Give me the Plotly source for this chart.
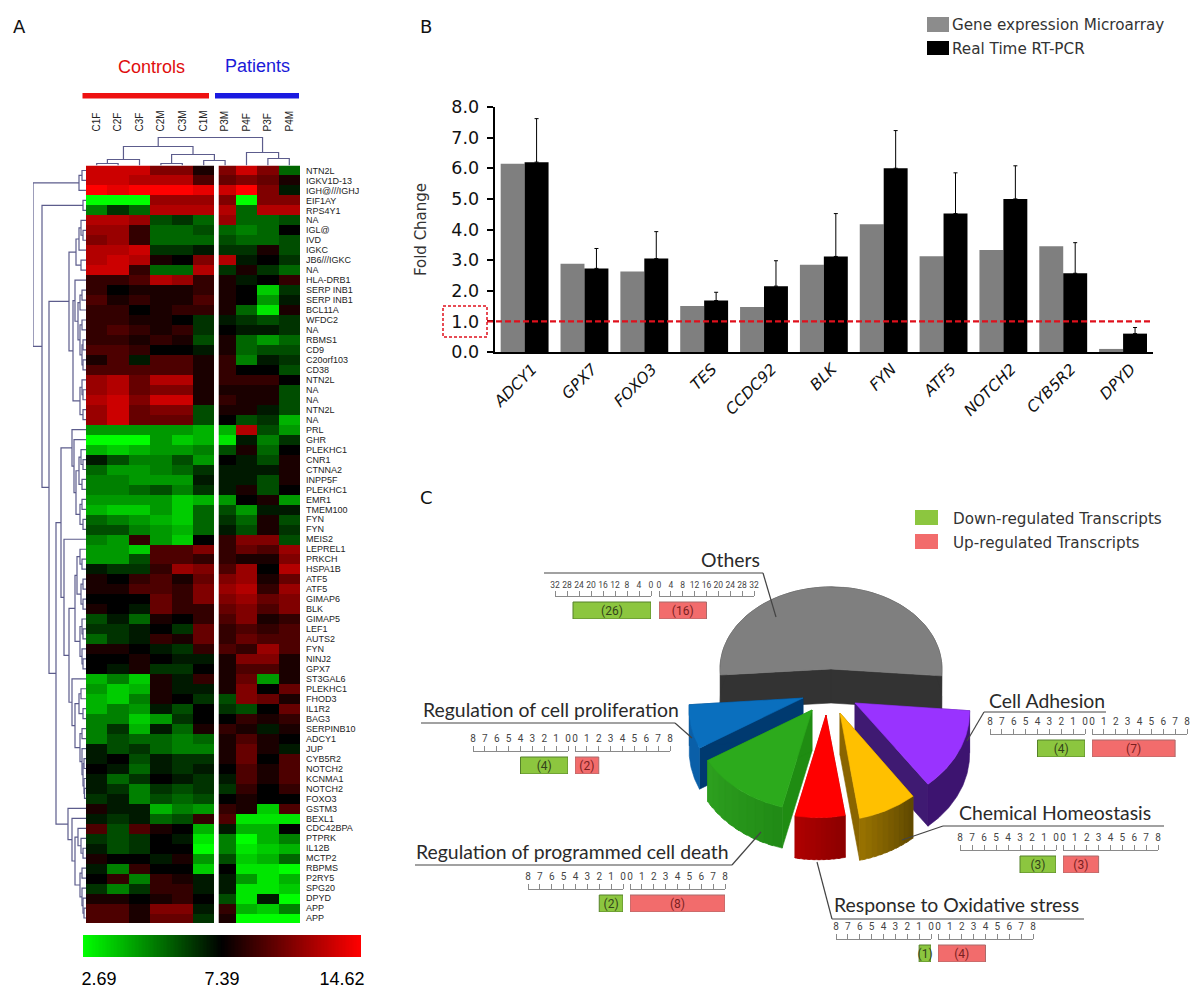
import math
import plotly.graph_objects as go

# ---------- Panel A data ----------
heat_cols = ["C1F", "C2F", "C3F", "C2M", "C3M", "C1M", "P3M", "P4F", "P3F", "P4M"]
heat_rows = ["NTN2L", "IGKV1D-13", "IGH@///IGHJ", "EIF1AY", "RPS4Y1", "NA", "IGL@", "IVD", "IGKC", "JB6///IGKC",
             "NA", "HLA-DRB1", "SERP INB1", "SERP INB1", "BCL11A", "WFDC2", "NA", "RBMS1", "CD9", "C20orf103",
             "CD38", "NTN2L", "NA", "NA", "NTN2L", "NA", "PRL", "GHR", "PLEKHC1", "CNR1",
             "CTNNA2", "INPP5F", "PLEKHC1", "EMR1", "TMEM100", "FYN", "FYN", "MEIS2", "LEPREL1", "PRKCH",
             "HSPA1B", "ATF5", "ATF5", "GIMAP6", "BLK", "GIMAP5", "LEF1", "AUTS2", "FYN", "NINJ2",
             "GPX7", "ST3GAL6", "PLEKHC1", "FHOD3", "IL1R2", "BAG3", "SERPINB10", "ADCY1", "JUP", "CYB5R2",
             "NOTCH2", "KCNMA1", "NOTCH2", "FOXO3", "GSTM3", "BEXL1", "CDC42BPA", "PTPRK", "IL12B", "MCTP2",
             "RBPMS", "P2RY5", "SPG20", "DPYD", "APP", "APP"]
heat_values = [
    [8, 8, 8, 5, 5, 1, 5, 8, 5, -4], [8, 8, 7, 7, 7, 3, 4, 5, 4, 1], [10, 9, 10, 10, 10, 9, 8, 10, 5, -1],
    [-10, -10, -10, 6, 6, 6, 5, -10, 5, 5], [-5, -2, -4, 7, 7, 7, 7, -4, 7, 7], [7, 7, 6, -3, -2, -4, 6, -4, -4, -3],
    [6, 6, 2, -4, -4, -3, -4, -5, -4, 0], [5, 6, 2, -4, -4, -4, -3, -4, -4, -3], [7, 7, 8, -2, -2, -1, -2, -2, 1, -3],
    [7, 8, 7, 1, 0, 5, 7, -1, 0, -2], [8, 8, 2, -4, -4, 7, -2, 1, -2, -4], [2, 2, 3, 7, 6, 2, 1, -1, 0, 2],
    [2, 0, 1, 1, 1, 2, 1, 0, -8, -2], [3, 1, 2, 1, 1, 3, 1, 0, -6, -1], [2, 2, 0, 1, 2, 2, 1, -4, -9, 1],
    [2, 2, 1, 1, 0, -2, -1, -2, -3, -2], [2, 3, 2, 1, 2, -2, 0, -1, -1, -2], [2, 2, 1, 2, 1, -3, 1, -4, -6, -4],
    [3, 3, 2, 0, 0, -1, 1, -4, -3, -3], [1, 3, -1, 3, 3, 1, 2, -5, -1, -2], [3, 3, 3, 3, 3, 1, 2, 0, 0, -3],
    [6, 7, 4, 7, 7, 1, 2, 2, 2, 0], [6, 7, 4, 5, 5, 1, 1, 1, 1, -3], [7, 8, 5, 8, 8, 1, 2, 1, 1, -3],
    [6, 8, 4, 5, 5, -3, 1, 1, -1, -3], [6, 8, 4, 4, 4, -3, 0, -3, -2, -7], [-6, -6, -6, -6, -6, -7, -7, 7, -3, -6],
    [-10, -10, -10, -6, -8, -7, -9, -1, -5, -2], [-7, -8, -7, -6, -6, -5, -3, 1, -4, 0], [-1, -3, -5, -5, -3, -6, 0, -1, -3, 1],
    [-4, -6, -6, -5, -4, -2, -1, -1, -1, 1], [-5, -5, -6, -6, -6, -1, -1, -1, -3, 1], [-5, -5, -4, -3, -5, -2, -1, 1, -3, 0],
    [-6, -6, -6, -6, -8, -7, -6, 0, 1, -6], [-7, -8, -8, -6, -8, -4, -3, -6, -1, -1], [-4, -5, -6, -7, -8, -4, -2, -4, 1, -3],
    [-3, -3, -5, -6, -7, -4, -1, -3, 1, -2], [-5, -6, 2, -6, -8, 0, 2, 5, 5, -3], [-6, -6, -8, 3, 3, 5, 2, 4, 3, 6],
    [-6, -6, -3, 3, 3, 2, 2, 1, 1, 5], [-1, -2, -2, 2, 6, 5, 3, 6, 0, 7], [1, 0, 2, 3, 1, 4, 5, 6, 1, 4],
    [1, 1, 3, 3, 2, 5, 6, 7, 2, 6], [0, 0, 0, 4, 2, 5, 5, 6, 4, 5], [1, 0, -1, 4, 2, 2, 4, 5, 3, 5],
    [-3, -1, -4, 1, 0, 2, 3, 5, 1, 2], [-2, -2, -1, 0, -2, 4, 2, 3, 2, 3], [-4, -2, -1, 2, 1, 4, 2, 4, 3, 3],
    [1, 1, 0, -1, -2, 2, 3, 2, 6, 3], [0, 0, 1, 0, -1, -1, 1, 5, 5, 1], [0, -1, 1, -2, -2, 0, 1, 3, 3, 1],
    [-7, -5, -8, 1, -1, 2, 1, 4, -6, 1], [-6, -8, -7, 1, -1, -1, 1, 5, 0, 4], [-7, -8, -5, 1, 0, -2, -3, 5, 4, 1],
    [-7, -5, -6, -1, -3, 0, -2, -3, 0, 4], [-5, -5, -8, -6, -2, 0, 0, 2, 1, 2], [-5, -2, -7, -1, -4, 1, 2, 1, -1, 1],
    [-5, -3, -4, -4, -5, -4, 1, 3, 1, 0], [-1, -3, -2, -4, -5, -5, 1, 4, 1, -1], [-1, 0, -3, -1, -2, -2, 1, 4, 0, 3],
    [0, -1, -4, -1, -2, -1, 0, 3, 1, 3], [-1, -4, -2, 0, -1, -2, -1, 3, 1, 3], [-1, -2, -5, -2, -3, -2, -2, 2, 0, 2],
    [-2, -1, -5, -3, -4, -3, 0, 1, 0, 0], [1, -1, -1, -7, -5, -6, 2, 1, -8, 3], [-1, -2, -1, -4, -3, 2, 3, -9, -9, -9],
    [3, -3, 3, 1, 0, -7, -1, -7, -7, 0], [-2, -3, -2, 0, -1, -9, -5, -10, -7, -5], [-1, -3, -2, 0, 0, -10, -5, -9, -8, -7],
    [1, 0, 0, -1, 1, -6, -3, -8, -7, -4], [-1, -5, 2, 0, 0, -8, 0, -9, -9, -10], [0, 2, -5, 2, 1, -1, -1, -6, -9, -7],
    [-2, -5, -2, 2, 2, -1, -1, -9, -9, -8], [1, 1, 0, 1, 2, 0, -3, -9, -1, -10], [3, 3, 1, 5, 5, -1, 2, -7, -8, -5],
    [3, 3, 1, 4, 4, -2, 1, -10, -10, -10],
]
scale_labels = ["2.69", "7.39", "14.62"]

# Dendrograms: (distance, child, child); an int child is a leaf index
row_tree = (53, (7, (4, 0, 1), 2), (44, (3, 3, 4), (37,
    (17, (10, (7, (5, 5, (3, 6, 7)), 8), (5, 9, 10)),
         (13, (11, 11, (8, (6, (4, 12, 13), 14), (6, (4, 15, 16), (4, (3, 17, 18), (3, 19, 20))))),
              (6, (4, 21, (3, 22, 23)), (3, 24, 25)))),
    (30, (25, (14, 26, (12, 27, (10, (7, (5, 28, (3, 29, 30)), (4, 31, 32)), (6, (4, 33, 34), (3, 35, 36))))),
              (22, 37, (17, (11, (9, (6, 38, (4, 39, 40)), (5, (3, 41, 42), (3, 43, 44))),
                                 (6, (4, 45, (3, 46, 47)), (4, 48, (3, 49, 50)))),
                            (14, 51, (11, (7, (5, 52, 53), (3, 54, 55)),
                                      (6, (4, 56, 57), (4, 58, (3, (2, 59, 60), (2, 61, (1.5, 62, 63)))))))))),
         (18, 64, (14, 65, (11, (8, 66, (5, 67, (3, 68, 69))),
                            (6, (4, 70, 71), (4, 72, (3, 73, (2, 74, 75)))))))))))
col_tree = (28, (19, (6, (2, 0, 1), 2), (11, (2, 3, 4), (5, 5, 6))), (13, 7, (7, 8, 9)))

# ---------- Panel B data ----------
genes = ["ADCY1", "GPX7", "FOXO3", "TES", "CCDC92", "BLK", "FYN", "ATF5", "NOTCH2", "CYB5R2", "DPYD"]
microarray = [6.15, 2.88, 2.63, 1.5, 1.47, 2.85, 4.17, 3.13, 3.33, 3.45, 0.1]
rt_pcr = [6.2, 2.73, 3.05, 1.68, 2.15, 3.12, 6.0, 4.52, 5.0, 2.57, 0.6]
rt_pcr_top = [7.62, 3.38, 3.93, 1.95, 2.98, 4.52, 7.23, 5.85, 6.08, 3.57, 0.8]

# ---------- Panel C data ----------
terms = ["Others", "Cell Adhesion", "Chemical Homeostasis", "Response to Oxidative stress",
         "Regulation of programmed cell death", "Regulation of cell proliferation"]
down_counts = [26, 4, 3, 1, 2, 4]
up_counts = [16, 7, 3, 4, 8, 2]
scale_max = [32, 8, 8, 8, 8, 8]

W, H = 1200, 999
NARROW = "Roboto, Liberation Sans, Arial, sans-serif"
TERMFONT = "Lato, Liberation Sans, Arial, sans-serif"
SANS = "Liberation Sans, Arial, sans-serif"
DEJA = "DejaVu Sans, Verdana, sans-serif"
DENDRO = "#5c5c8c"
HEAT_SCALE = [[0, "#00ff00"], [0.5, "#000000"], [1, "#ff0000"]]


def dom_x(a, b):
    return [a / W, b / W]


def dom_y(top, bottom):
    return [1 - bottom / H, 1 - top / H]


fig = go.Figure()
layout = dict(template="none", width=W, height=H, autosize=False, margin=dict(l=0, r=0, t=0, b=0, pad=0), showlegend=False,
              paper_bgcolor="white", plot_bgcolor="rgba(0,0,0,0)", bargap=0.2, bargroupgap=0, barmode="group")

# ---------- Panel A ----------
fig.add_trace(go.Heatmap(z=heat_values, x=list(range(10)), y=list(range(len(heat_rows))), zmin=-10, zmax=10, hoverinfo="skip",
                         colorscale=HEAT_SCALE, showscale=False))
layout["xaxis"] = dict(domain=dom_x(86, 300), range=[-0.5, 9.5], side="top", anchor="y", tickvals=list(range(10)),
                       ticktext=heat_cols, tickangle=-90, ticks="", ticklabelstandoff=33, showgrid=False, zeroline=False,
                       tickfont=dict(family=SANS, size=10, color="#222"))
layout["yaxis"] = dict(domain=dom_y(165.5, 923), range=[75.5, -0.5], side="right", anchor="x",
                       tickvals=list(range(len(heat_rows))), ticktext=heat_rows, ticks="", ticklabelstandoff=5,
                       showgrid=False, zeroline=False, tickfont=dict(family=SANS, size=9, color="#222"))


def tree_lines(node):
    """Returns (leaf position, distance, xs, ys) with distance along d and leaf position along p."""
    if isinstance(node, int):
        return node, 0, [], []
    d, a, b = node
    pa, da, xa, ya = tree_lines(a)
    pb, db, xb, yb = tree_lines(b)
    return (pa + pb) / 2, d, xa + xb + [da, d, d, db, None], ya + yb + [pa, pa, pb, pb, None]


_, _, ds, ps = tree_lines(row_tree)
fig.add_trace(go.Scatter(x=ds, y=ps, mode="lines", line=dict(color=DENDRO, width=1.2), xaxis="x2", yaxis="y", hoverinfo="skip"))
layout["xaxis2"] = dict(domain=dom_x(33, 86), range=[53, 0], visible=False, anchor="y")
_, _, ds, ps = tree_lines(col_tree)
fig.add_trace(go.Scatter(x=ps, y=ds, mode="lines", line=dict(color=DENDRO, width=1.2), xaxis="x", yaxis="y2", hoverinfo="skip"))
layout["yaxis2"] = dict(domain=dom_y(135, 165.5), range=[0, 30.5], visible=False, anchor="x")

# colour key drawn on its own axes
key_steps = [i / 10 for i in range(-100, 101)]
fig.add_trace(go.Heatmap(z=[key_steps], x=key_steps, y=[0], zmin=-10, zmax=10, colorscale=HEAT_SCALE, showscale=False,
                         xaxis="x17", yaxis="y17", hoverinfo="skip"))
layout["xaxis17"] = dict(domain=dom_x(83, 361), range=[-10, 10], anchor="y17", tickvals=[-8.85, 0, 8.64], ticktext=scale_labels,
                         ticks="outside", ticklen=5, tickcolor="rgba(0,0,0,0)", showgrid=False, zeroline=False, showline=False,
                         tickfont=dict(family=SANS, size=18, color="#000"))
layout["yaxis17"] = dict(domain=dom_y(935, 957), range=[-0.5, 0.5], visible=False, anchor="x17")

# ---------- Panel B ----------
fig.add_trace(go.Bar(x=genes, y=microarray, marker=dict(color="#7f7f7f", line_width=0), xaxis="x3", yaxis="y3", offsetgroup="a", hoverinfo="skip"))
fig.add_trace(go.Bar(x=genes, y=rt_pcr, marker=dict(color="#000000", line_width=0), xaxis="x3", yaxis="y3", offsetgroup="b", hoverinfo="skip",
                     error_y=dict(type="data", symmetric=False, array=[t - v for t, v in zip(rt_pcr_top, rt_pcr)],
                                  arrayminus=[0] * len(rt_pcr), color="#000", thickness=1, width=2)))
layout["xaxis3"] = dict(domain=dom_x(494.7, 1153), anchor="y3", showgrid=False, ticks="", showline=True, linecolor="#000", linewidth=2,
                        tickangle=-45, tickfont=dict(family=DEJA, size=15.5, style="italic", color="#111"),
                        ticklabelstandoff=0, ticklabelshift=8)
layout["yaxis3"] = dict(domain=dom_y(107, 352), range=[0, 8], dtick=1, tickformat=".1f", anchor="x3", showgrid=False, zeroline=False,
                        showline=True, linecolor="#000", linewidth=2, ticks="outside", ticklen=6, tickwidth=2, tickcolor="#000",
                        ticklabelstandoff=4, tickfont=dict(family=DEJA, size=17.5, color="#111"),
                        title=dict(text="Fold Change", standoff=21, font=dict(family=DEJA, size=15, color="#333")))

# ---------- Overlay in page pixels ----------
layout["xaxis4"] = dict(domain=[0, 1], range=[0, W], visible=False, anchor="y4", fixedrange=True)
layout["yaxis4"] = dict(domain=[0, 1], range=[H, 0], visible=False, anchor="x4", fixedrange=True)


def poly(xs, ys, color):
    fig.add_trace(go.Scatter(x=xs + xs[:1], y=ys + ys[:1], mode="lines", fill="toself", fillcolor=color,
                             line=dict(color=color, width=0.6), xaxis="x4", yaxis="y4", hoverinfo="skip"))


def mix(c1, c2, t):
    a = [int(c1[i:i + 2], 16) for i in (1, 3, 5)]
    b = [int(c2[i:i + 2], 16) for i in (1, 3, 5)]
    return "rgb(%d,%d,%d)" % tuple(round(p + (q - p) * t) for p, q in zip(a, b))


pie_counts = [d + u for d, u in zip(down_counts, up_counts)]
start_angle = -184.2
spans = []
for c in pie_counts:
    sweep = 360 * c / sum(pie_counts)
    spans.append((start_angle, start_angle + sweep))
    start_angle += sweep

# one entry per slice: apex, radii, aspect, depth, colours
slice_styles = [
    dict(apex=(831, 669), r=(111, 111), k=0.74, depth=34, top="#7f7f7f", side="#333333", rim=("#333333", "#333333")),
    dict(apex=(855, 703), r=(115, 125), k=0.80, depth=42, top="#9933ff", side="#3f1a72", rim=("#3d1470", "#3d1470")),
    dict(apex=(840, 713), r=(125, 130), k=0.82, depth=42, top="#ffc000", side="#8a6500", rim=("#5e4800", "#9a7300")),
    dict(apex=(826, 715), r=(127, 130), k=0.80, depth=42, top="#ff0000", side="#b00000", rim=("#8a0000", "#b00000")),
    dict(apex=(812, 710), r=(125, 122), k=0.80, depth=41, top="#2caa1c", side="#1f8c12", rim=("#208a15", "#2ea020")),
    dict(apex=(803, 698), r=(121, 114), k=0.80, depth=41, top="#0a6fbe", side="#003a70", rim=("#0a5fa8", "#0a5fa8")),
]


def rim_point(st, a0, a1, t):
    ang = math.radians(a0 + (a1 - a0) * t)
    r = st["r"][0] + (st["r"][1] - st["r"][0]) * t
    return st["apex"][0] + r * math.cos(ang), st["apex"][1] + st["k"] * r * math.sin(ang)


for idx in [0, 5, 1, 4, 2, 3]:
    st, (a0, a1) = slice_styles[idx], spans[idx]
    ax, ay = st["apex"]
    dp = st["depth"]
    for t in (0, 1):
        px, py = rim_point(st, a0, a1, t)
        poly([ax, px, px, ax], [ay, py, py + dp, ay + dp], st["side"])
    bands = 1 if st["rim"][0] == st["rim"][1] else 10
    for b in range(bands):
        t0 = b / bands
        t1 = min(1, (b + 1.5) / bands)
        pts = [rim_point(st, a0, a1, t0 + (t1 - t0) * i / 12) for i in range(13)] if bands > 1 else \
              [rim_point(st, a0, a1, i / 60) for i in range(61)]
        xs = [p[0] for p in pts]
        ys = [p[1] for p in pts]
        poly(xs + xs[::-1], ys + [v + dp for v in ys[::-1]], mix(st["rim"][0], st["rim"][1], (b + 0.5) / bands))
    pts = [rim_point(st, a0, a1, i / 60) for i in range(61)]
    poly([ax] + [p[0] for p in pts], [ay] + [p[1] for p in pts], st["top"])

# Term labels, leader lines, butterfly axes: one entry per term
term_layout = [
    dict(text=(700, 559), under=(544, 763, 573), tip=(776, 617), left=(555, 651), right=(659, 754), base=597),
    dict(text=(988, 700), under=(984, 1106, 712), tip=(967, 741), left=(990, 1085), right=(1092, 1187), base=735),
    dict(text=(958, 812), under=(943, 1164, 826), tip=(902, 840), left=(960, 1056), right=(1063, 1158), base=851),
    dict(text=(833, 904), under=(832, 1084, 919), tip=(817, 862), left=(836, 931), right=(938, 1033), base=940),
    dict(text=(415, 851), under=(415, 732, 865), tip=(761, 832), left=(528, 623), right=(630, 725), base=890),
    dict(text=(422, 709), under=(421, 675, 723), tip=(692, 738), left=(473, 568), right=(575, 670), base=752),
]
annotations = []
shapes = []


def overlay_text(x, y, text, size, color="#222", family=NARROW, anchor="left"):
    annotations.append(dict(x=x, y=y, xref="x4", yref="y4", text=text, showarrow=False, xanchor=anchor, yanchor="middle",
                            font=dict(family=family, size=size, color=color), align="left", borderpad=0))


def overlay_rect(x0, y0, x1, y1, fill, line=None, width=0, dash=None):
    shapes.append(dict(type="rect", xref="x4", yref="y4", x0=x0, y0=y0, x1=x1, y1=y1, fillcolor=fill,
                       line=dict(color=line or fill, width=width, dash=dash)))


axis_no = 5
for term, tl, dn, up, vmax in zip(terms, term_layout, down_counts, up_counts, scale_max):
    overlay_text(tl["text"][0], tl["text"][1], term, 19.4, "#2a2a2a", TERMFONT)
    x0, x1, uy = tl["under"]
    tipx, tipy = tl["tip"]
    near = x1 if tipx > x1 else (x0 if tipx < x0 else x1)
    fig.add_trace(go.Scatter(x=[x0, x1, None, near, tipx], y=[uy, uy, None, uy, tipy], mode="lines",
                             line=dict(color="#444", width=1.2), xaxis="x4", yaxis="y4", hoverinfo="skip"))
    yname = "y%d" % axis_no
    layout["yaxis%d" % axis_no] = dict(domain=dom_y(tl["base"], tl["base"] + 22), range=[0, 22], visible=False,
                                       anchor="x%d" % axis_no, fixedrange=True)
    for side, val, col, edge, rng, txt in (("left", dn, "#8cc63f", "#55802a", [vmax, 0], "#33431a"),
                                           ("right", up, "#f26c6c", "#a86a6a", [0, vmax], "#7a1f1f")):
        fig.add_trace(go.Bar(x=[val], y=[8.5], orientation="h", width=17, base=0, text=["(%d)" % val], textposition="inside",
                             insidetextanchor="middle", constraintext="none", textangle=0, cliponaxis=False,
                             textfont=dict(family=NARROW, size=12, color=txt), marker=dict(color=col, line=dict(color=edge, width=1)),
                             xaxis="x%d" % axis_no, yaxis=yname, hoverinfo="skip"))
        layout["xaxis%d" % axis_no] = dict(domain=dom_x(*tl[side]), range=rng, dtick=vmax / 8, tickangle=0, side="top", anchor=yname,
                                           showgrid=False, zeroline=False, showline=True, linecolor="#8a8a8a", linewidth=1,
                                           ticks="outside", ticklen=5, tickcolor="#8a8a8a", tickwidth=1,
                                           tickfont=dict(family=NARROW, size=8.5 if vmax > 8 else 10, color="#444"), fixedrange=True)
        axis_no += 1

# Panel A furniture
overlay_rect(82.5, 93, 209, 98.5, "#ee1111")
overlay_rect(215, 93, 299, 98.5, "#1a1ae0")
overlay_rect(214, 162, 218.7, 923.5, "#ffffff")
overlay_text(151, 67, "Controls", 18, "#e00d0d", SANS, "center")
overlay_text(257, 66, "Patients", 18, "#1a1ad8", SANS, "center")

# Panel letters
overlay_text(12, 26, "A", 18, "#111", DEJA)
overlay_text(419, 26, "B", 18, "#111", DEJA)
overlay_text(419, 497, "C", 18, "#111", DEJA)

# Panel B legend and threshold
overlay_rect(927, 17, 949, 32, "#8c8c8c")
overlay_rect(927, 41, 949, 55, "#000000")
overlay_text(951, 25, "Gene expression Microarray", 15.2, "#333", DEJA)
overlay_text(951, 49, "Real Time RT-PCR", 15.2, "#333", DEJA)
overlay_rect(443, 306, 487, 337, "rgba(0,0,0,0)", "#e0101c", 1.5, "3px,2px")
shapes.append(dict(type="line", xref="x4", yref="y3", x0=487, x1=1153, y0=1, y1=1, line=dict(color="#e0101c", width=2.4, dash="6px,3px")))

# Panel C legend
overlay_rect(915, 510, 938, 525, "#8cc63f")
overlay_rect(915, 534, 938, 549, "#f26c6c")
overlay_text(952, 519, "Down-regulated Transcripts", 15.2, "#333", DEJA)
overlay_text(952, 543, "Up-regulated Transcripts", 15.2, "#333", DEJA)

layout["annotations"] = annotations
layout["shapes"] = shapes
fig.update_layout(**layout)
fig.write_html("out.html", config={"displayModeBar": False},
               post_script="document.body.style.margin='0';document.body.style.overflow='hidden';")
